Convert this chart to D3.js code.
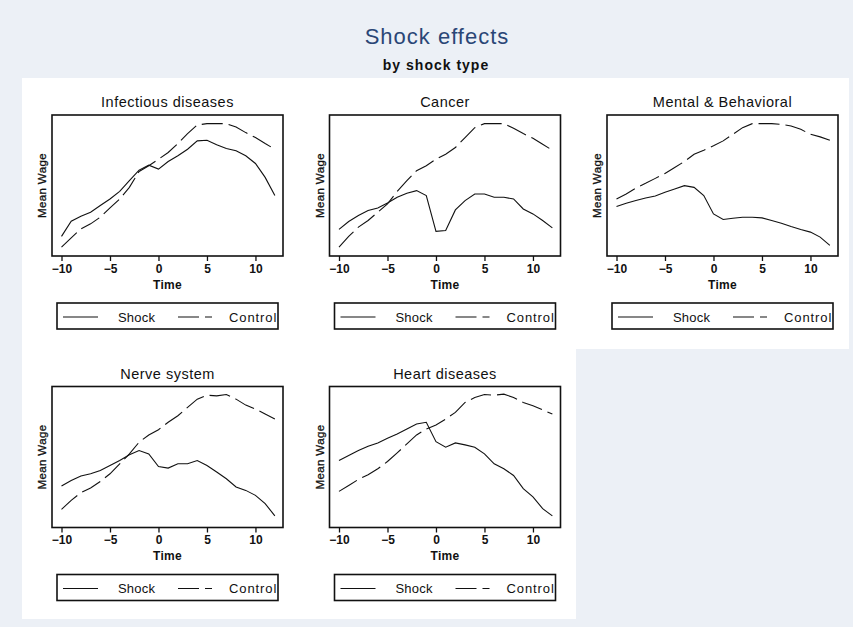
<!DOCTYPE html>
<html><head><meta charset="utf-8">
<script src="https://cdn.jsdelivr.net/npm/d3@7"></script>
<style>
body{margin:0;background:#ecf0f6}
svg{display:block}
text{font-family:"Liberation Sans",Arial,sans-serif}
</style>
</head><body>
<svg id="chart" width="853" height="627"></svg>
<script>
// ---- data ----
const mainTitle = "Shock effects";
const subTitle = "by shock type";
const panelTitles = ["Infectious diseases", "Cancer", "Mental & Behavioral", "Nerve system", "Heart diseases"];
const time = [-10,-9,-8,-7,-6,-5,-4,-3,-2,-1,0,1,2,3,4,5,6,7,8,9,10,11,12];
const xTicks = [-10,-5,0,5,10];
const xTitle = "Time";
const yTitle = "Mean Wage";
const legendLabels = ["Shock", "Control"];

const shockInfectious = [19.7,35.0,40.0,44.0,50.7,57.3,65.0,75.7,86.3,91.3,87.3,95.0,100.7,107.3,115.7,116.3,111.7,108.0,105.7,100.7,93.0,79.0,60.7];
const controlInfectious = [9.0,18.3,27.3,32.3,39.0,48.3,57.3,69.0,85.0,90.7,97.3,104.0,113.0,123.0,131.7,133.0,133.0,133.0,129.7,124.0,119.0,113.0,107.3];
const shockCancer = [26.7,34.7,40.7,45.7,48.3,53.3,59.0,63.0,65.7,60.7,24.7,25.7,46.3,55.7,62.3,62.3,59.0,59.0,57.3,47.3,42.3,35.7,28.3];
const controlCancer = [9.0,19.7,29.0,35.7,44.0,52.3,65.0,75.7,85.7,90.7,97.3,102.3,109.0,119.0,129.0,133.0,133.0,133.0,128.3,123.0,118.3,112.3,106.3];
const shockMental = [49.7,53.0,55.7,58.3,60.3,64.0,67.3,70.7,69.0,60.7,42.3,36.7,38.0,39.0,39.0,38.3,35.7,33.0,29.7,26.7,24.0,19.0,10.7];
const controlMental = [57.3,62.3,68.3,73.0,78.0,83.0,89.0,95.0,102.3,106.3,110.7,115.7,122.3,129.0,133.0,133.0,133.0,132.3,130.7,127.3,122.3,119.7,116.3];
const shockNerve = [41.7,47.3,51.7,54.0,57.3,62.3,67.3,73.0,77.3,74.0,61.3,59.7,64.0,64.0,67.3,62.3,55.7,49.0,40.7,37.3,32.3,24.0,11.7];
const controlNerve = [18.3,27.3,35.0,39.7,46.3,54.0,64.0,74.0,85.7,93.0,98.3,105.7,112.3,120.7,129.0,133.0,132.3,133.7,129.0,123.0,119.0,114.0,109.0];
const shockHeart = [67.3,72.3,77.3,81.7,85.0,89.7,94.0,99.0,104.0,105.7,86.3,80.7,85.0,83.0,80.7,74.0,64.0,59.0,52.3,39.0,30.7,19.0,11.7];
const controlHeart = [36.3,42.3,48.3,53.0,59.0,66.3,75.0,84.0,93.0,99.0,103.0,109.0,115.7,125.7,130.7,133.7,133.0,134.0,130.7,125.7,122.3,118.3,114.0];

const shockSeries = [shockInfectious, shockCancer, shockMental, shockNerve, shockHeart];
const controlSeries = [controlInfectious, controlCancer, controlMental, controlNerve, controlHeart];

// ---- layout ----
const svg = d3.select("#chart");
const ink = "#111";
const dash = "21,6";

svg.append("rect").attr("width",853).attr("height",627).attr("fill","#ecf0f6");
svg.append("rect").attr("x",22).attr("y",78).attr("width",827).attr("height",271).attr("fill","#fff");
svg.append("rect").attr("x",22).attr("y",349).attr("width",554).attr("height",270).attr("fill","#fff");

svg.append("text").attr("x",437).attr("y",44).attr("text-anchor","middle")
  .attr("font-size",22).attr("letter-spacing",1).attr("fill","#2a4676").text(mainTitle);
svg.append("text").attr("x",436).attr("y",69.5).attr("text-anchor","middle")
  .attr("font-size",14).attr("font-weight","bold").attr("letter-spacing",1).attr("fill","#111").text(subTitle);

const fw = 231, fh = 141;
panelTitles.forEach((title, k) => {
  const col = k % 3, row = Math.floor(k / 3);
  const fx = 52 + col * 277.5, fy = 115 + row * 271.5;
  const g = svg.append("g").attr("transform", `translate(${fx},${fy})`);
  const x = d3.scaleLinear().domain([-10.98, 12.84]).range([0, fw]);
  const y = d3.scaleLinear().domain([0, 141.7]).range([fh, 0]);

  g.append("text").attr("x", fw/2).attr("y", -8).attr("text-anchor","middle")
    .attr("font-size",14.5).attr("letter-spacing",0.5).attr("fill",ink).text(title);

  const line = d3.line().x((d,i) => x(time[i])).y(d => y(d));
  g.append("path").datum(controlSeries[k]).attr("d", line).attr("fill","none")
    .attr("stroke", ink).attr("stroke-width",1.1).attr("stroke-dasharray",dash);
  g.append("path").datum(shockSeries[k]).attr("d", line).attr("fill","none")
    .attr("stroke", ink).attr("stroke-width",1.1);

  // frame
  g.append("rect").attr("width",fw).attr("height",fh).attr("fill","none")
    .attr("stroke",ink).attr("stroke-width",1.6);

  // x axis
  const ax = g.append("g").attr("transform",`translate(0,${fh})`)
    .call(d3.axisBottom(x).tickValues(xTicks).tickSize(5).tickPadding(3).tickFormat(d3.format("d")));
  ax.select(".domain").remove();
  ax.selectAll("line").attr("stroke",ink).attr("stroke-width",1.3);
  ax.selectAll("text").attr("font-size",12).attr("font-weight","bold").attr("fill",ink)
    .attr("font-family","\"Liberation Sans\",Arial,sans-serif");

  g.append("text").attr("x", fw/2).attr("y", fh + 32.5).attr("text-anchor","middle")
    .attr("font-size",12).attr("font-weight","bold").attr("letter-spacing",0.3).attr("fill",ink).text(xTitle);
  g.append("text").attr("transform",`translate(-6,${fh/2}) rotate(-90)`).attr("text-anchor","middle")
    .attr("font-size",11.5).attr("letter-spacing",0.4).attr("fill",ink).attr("stroke",ink).attr("stroke-width",0.3).text(yTitle);

  // legend
  const lg = g.append("g").attr("transform",`translate(5,${fh + 47})`);
  lg.append("rect").attr("width",221).attr("height",26).attr("fill","#fff")
    .attr("stroke",ink).attr("stroke-width",1.6);
  lg.append("line").attr("x1",6).attr("x2",41).attr("y1",14).attr("y2",14).attr("stroke",ink).attr("stroke-width",1.1);
  lg.append("text").attr("x",61).attr("y",18.5).attr("font-size",13).attr("letter-spacing",0.2).attr("fill",ink).text(legendLabels[0]);
  lg.append("line").attr("x1",121).attr("x2",155).attr("y1",14).attr("y2",14).attr("stroke",ink).attr("stroke-width",1.1).attr("stroke-dasharray",dash);
  lg.append("text").attr("x",172).attr("y",18.5).attr("font-size",13).attr("letter-spacing",0.9).attr("fill",ink).text(legendLabels[1]);
});
</script>
</body></html>
